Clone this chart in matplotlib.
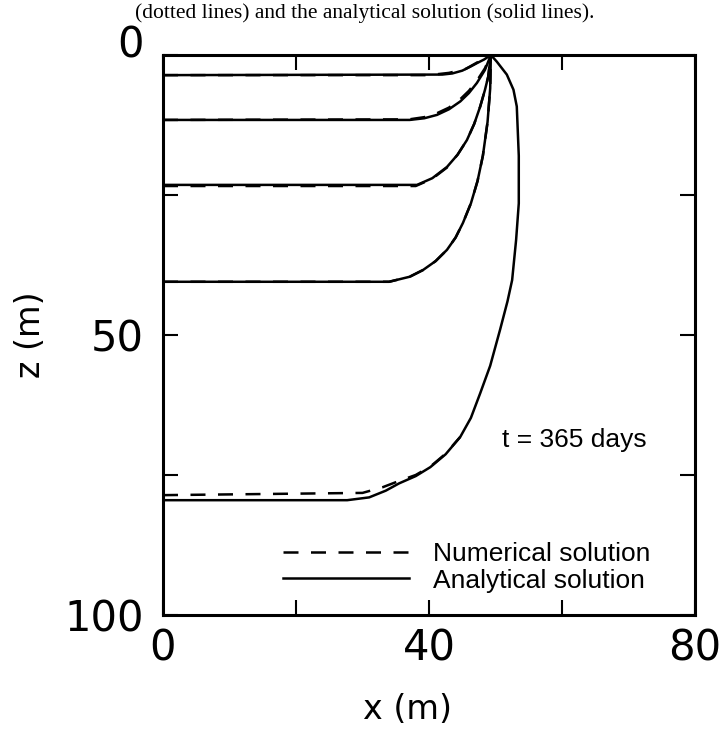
import matplotlib
matplotlib.use("Agg")
import matplotlib.pyplot as plt
from matplotlib.lines import Line2D

# analytical solution curves (x in m, z in m)
ana1_x = [0, 42, 43.5, 45, 46.2, 47.3, 48.3, 49.3]
ana1_z = [3.6, 3.5, 3.3, 2.8, 2.1, 1.4, 0.8, 0]
ana2_x = [0, 37.1, 39.3, 41.2, 43, 44.7, 46, 47.2, 48.4, 49.3]
ana2_z = [11.6, 11.6, 11.3, 10.7, 9.7, 8.3, 6.8, 5.0, 2.7, 0]
ana3_x = [0, 38.2, 40.5, 42.7, 44.3, 45.7, 46.8, 47.7, 48.4, 48.9, 49.3]
ana3_z = [23.2, 23.2, 22, 20, 17.8, 15.2, 12.3, 9.2, 6.3, 3.9, 0]
ana4_x = [0, 34, 37.1, 39.1, 41, 42.7, 44, 45.1, 46.3, 47.3, 48.1, 48.8, 49.2, 49.3]
ana4_z = [40.5, 40.5, 39.6, 38.4, 36.8, 34.8, 32.6, 30, 26.5, 22.5, 18, 12, 6, 0]
ana5_x = [0, 27.7, 31, 33.5, 35.5, 38, 40.2, 42.5, 44.7, 46.3, 47.7, 49.2, 50.7,
          51.8, 52.5, 53.1, 53.5, 53.5, 53.2, 52.7, 51.7, 50.2, 49.3]
ana5_z = [79.5, 79.5, 79.0, 77.8, 76.5, 75.2, 73.6, 71.3, 68.2, 64.8, 60.4, 55.5, 49,
          44, 40.2, 33, 26.5, 18, 9.2, 6.2, 3.5, 1.2, 0]

# numerical solution curves
num1_x = [0, 40, 43, 45.5, 47.3, 49.3]
num1_z = [3.6, 3.6, 3.2, 2.5, 1.3, 0]
num2_x = [0, 37, 39.3, 41.2, 43, 44.7, 46, 47.2, 48.4, 49.3]
num2_z = [11.6, 11.5, 11.1, 10.4, 9.4, 7.9, 6.4, 4.6, 2.4, 0]
num3_x = [0, 38, 40.5, 42.7, 44.3, 45.7, 46.8, 47.7, 48.4, 48.9, 49.3]
num3_z = [23.4, 23.4, 22.1, 20.1, 17.8, 15.2, 12.3, 9.2, 6.3, 3.9, 0]
num4_x = [0, 34, 37.1, 39.1, 41, 42.7, 44, 45.1, 46.3, 47.3, 48.1, 48.8, 49.2, 49.3]
num4_z = [40.5, 40.5, 39.6, 38.4, 36.8, 34.8, 32.6, 30, 26.5, 22.5, 18, 12, 6, 0]
num5_x = [0, 30, 33, 35.2, 38, 40.2, 42.5, 44.7]
num5_z = [78.6, 78.2, 77.2, 76.2, 75.0, 73.5, 71.2, 68.2]

x_ticks = [0, 20, 40, 60, 80]
x_ticklabels = ['0', '', '40', '', '80']
z_ticks = [0, 25, 50, 75, 100]
z_ticklabels = ['', '', '50', '', '100']

fig = plt.figure(figsize=(7.27, 7.31), dpi=100)
ax = fig.add_axes([0.2242, 0.1587, 0.7318, 0.7661])

lw = 1.8
ana = [(ana1_x, ana1_z), (ana2_x, ana2_z), (ana3_x, ana3_z), (ana4_x, ana4_z), (ana5_x, ana5_z)]
num = [(num1_x, num1_z), (num2_x, num2_z), (num3_x, num3_z), (num4_x, num4_z), (num5_x, num5_z)]
for xs, zs in ana:
    ax.plot(xs, zs, color='black', lw=lw, solid_capstyle='butt')
for xs, zs in num:
    ax.plot(xs, zs, color='black', lw=lw, linestyle=(0, (6, 5)))

ax.set_xlim(0, 80)
ax.set_ylim(100, 0)
ax.set_xticks(x_ticks)
ax.set_xticklabels(x_ticklabels)
ax.set_yticks(z_ticks)
ax.set_yticklabels(z_ticklabels)
ax.tick_params(direction='in', length=11, width=1.5, top=True, right=True,
               labelsize=30)
ax.tick_params(axis='x', pad=9)
ax.tick_params(axis='y', pad=14)
for sp in ax.spines.values():
    sp.set_linewidth(2.2)

# top "0" sits a little above the frame in the original
ax.annotate('0', xy=(0, 0), xycoords=('axes fraction', 'data'),
            xytext=(-14, 10), textcoords='offset points',
            ha='right', va='center_baseline', fontsize=30)

ax.set_xlabel('x (m)', fontsize=24)
ax.set_ylabel('z (m)', fontsize=24, labelpad=12)
ax.xaxis.set_label_coords(0.46, -0.14)

ax.text(51, 68.7, 't = 365 days', fontsize=19, family='Liberation Sans',
        va='center', ha='left')

handles = [Line2D([], [], color='black', lw=lw, linestyle=(0, (6, 5))),
           Line2D([], [], color='black', lw=lw)]
ax.legend(handles, ['Numerical solution', 'Analytical solution'],
          loc='lower left', bbox_to_anchor=(0.225, 0.04), frameon=False,
          prop={'family': 'Liberation Sans', 'size': 19},
          handlelength=4.8, handletextpad=0.9, labelspacing=0.1,
          borderpad=0, borderaxespad=0)

fig.text(0.502, 0.982, '(dotted lines) and the analytical solution (solid lines).',
         family='Liberation Serif', fontsize=15.5, ha='center', va='center')

fig.savefig('out.png', dpi=100)
